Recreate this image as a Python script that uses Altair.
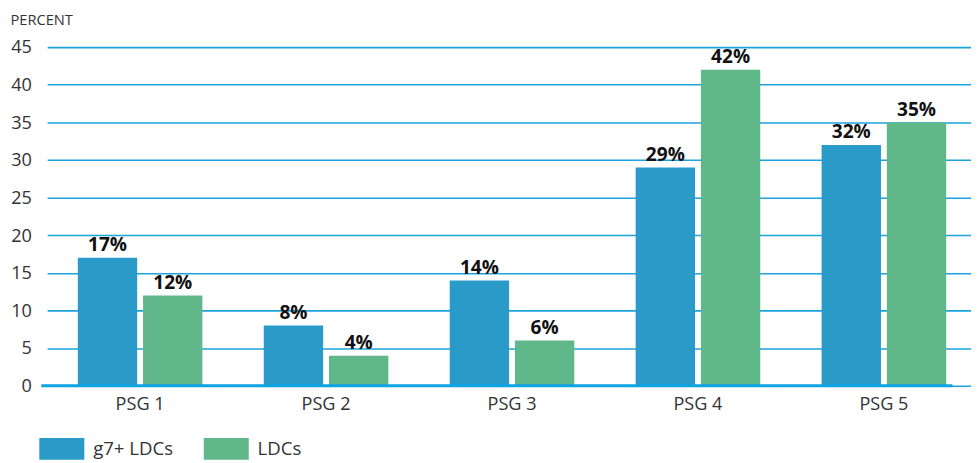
import altair as alt
import pandas as pd

categories = ["PSG 1", "PSG 2", "PSG 3", "PSG 4", "PSG 5"]
series = ["g7+ LDCs", "LDCs"]
g7_values = [17, 8, 14, 29, 32]
ldc_values = [12, 4, 6, 42, 35]
y_ticks = [0, 5, 10, 15, 20, 25, 30, 35, 40, 45]
colors = ["#2a9ac9", "#60b88a"]

rows = []
for c, a, b in zip(categories, g7_values, ldc_values):
    rows.append({"cat": c, "series": series[0], "value": a, "label": f"{a}%"})
    rows.append({"cat": c, "series": series[1], "value": b, "label": f"{b}%"})
df = pd.DataFrame(rows)

FONT = "Open Sans"
PLOT_W = 931

x = alt.X("cat:N", sort=categories, title=None,
          scale=alt.Scale(paddingInner=0.33, paddingOuter=0.165, range=[6, 956]),
          axis=alt.Axis(labelAngle=0, labelFontSize=18.5, labelColor="#333333",
                        labelFont=FONT, ticks=False, domain=False, labelPadding=9))
xo = alt.XOffset("series:N", sort=series,
                 scale=alt.Scale(paddingInner=0.09, paddingOuter=0))
y = alt.Y("value:Q", title="PERCENT",
          scale=alt.Scale(domain=[0, 45], nice=False),
          axis=alt.Axis(values=y_ticks,
                        labelFontSize=18.5, labelColor="#333333", labelFont=FONT,
                        ticks=False, domain=False, labelPadding=10,
                        gridColor="#1aa3dd", gridWidth=1.6,
                        titleAngle=0, titleX=-32, titleY=-20, titleAlign="left",
                        titleFontSize=15, titleFontWeight="normal",
                        titleColor="#333333", titleFont=FONT))

bars = alt.Chart(df).mark_bar().encode(
    x=x, xOffset=xo, y=y,
    color=alt.Color("series:N", sort=series,
                    scale=alt.Scale(domain=series, range=colors),
                    legend=alt.Legend(title=None, orient="none", legendX=-2, legendY=387,
                                      direction="horizontal", padding=0,
                                      symbolType="M-1,-0.48h2v0.96h-2z", symbolSize=2116,
                                      symbolStrokeWidth=0, symbolOpacity=1,
                                      labelFontSize=19, labelFont=FONT, labelColor="#333333",
                                      labelOffset=9, columnPadding=31))
)

text = alt.Chart(df).mark_text(dy=-13, fontSize=19.5, fontWeight="bold", font=FONT,
                               color="#111111").encode(
    x=x, xOffset=xo, y=y, text="label:N"
)

base = alt.Chart(pd.DataFrame({"value": [0]})).mark_rule(color="#0ea3e3", strokeWidth=3).encode(
    y=y, x=alt.value(0), x2=alt.value(PLOT_W)
)

chart = (bars + text + base).properties(width=PLOT_W, height=346).configure(
    padding={"left": 2, "top": 0, "right": 0, "bottom": 0}
).configure_view(stroke=None)

chart.save("out.html", embed_options={"renderer": "svg", "actions": False})
